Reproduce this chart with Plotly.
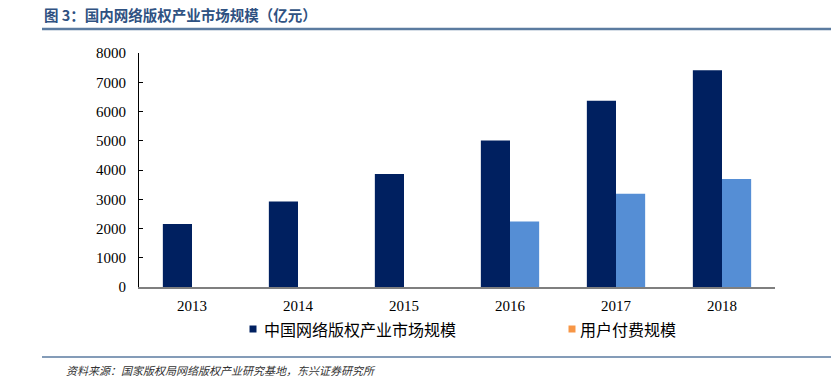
import plotly.graph_objects as go

years = ["2013", "2014", "2015", "2016", "2017", "2018"]
market_size = [2150, 2920, 3860, 5010, 6370, 7410]
user_paid = [None, None, None, 2240, 3190, 3690]
y_ticks = [0, 1000, 2000, 3000, 4000, 5000, 6000, 7000, 8000]
series_names = ["中国网络版权产业市场规模", "用户付费规模"]

W, H = 839, 387
ML, MR, MT, MB = 139, 64, 53, 100
PW, PH = W - ML - MR, H - MT - MB


def px(x):
    return (x - ML) / PW


def py(y):
    return (H - MB - y) / PH


DARK = "#002060"
LIGHT = "#558ED5"
ORANGE = "#F79646"

fig = go.Figure()
fig.add_trace(go.Bar(x=years, y=market_size, name=series_names[0],
                     marker=dict(color=DARK, line=dict(width=0)),
                     offsetgroup="a", showlegend=False))
fig.add_trace(go.Bar(x=years, y=user_paid, name=series_names[1],
                     marker=dict(color=LIGHT, line=dict(width=0)),
                     offsetgroup="b", showlegend=False))

fig.update_layout(
    width=W, height=H,
    margin=dict(l=ML, r=MR, t=MT, b=MB, autoexpand=False),
    paper_bgcolor="white", plot_bgcolor="white",
    barmode="group", bargap=0.45, bargroupgap=0,
    font=dict(family="Liberation Serif, Times New Roman, serif", color="#000000"),
    showlegend=False,
    xaxis=dict(type="category", showline=True, linecolor="#7F7F7F", linewidth=2,
               ticks="", showgrid=False, zeroline=False, automargin=False,
               tickfont=dict(family="Liberation Serif", size=15, color="#000000"),
               ticklabelstandoff=4),
    yaxis=dict(range=[0, 8000], tickvals=y_ticks, ticktext=[str(v) for v in y_ticks],
               showline=True, linecolor="#000000", linewidth=1,
               ticks="inside", ticklen=4, tickcolor="#000000", tickwidth=1,
               showgrid=False, zeroline=False, automargin=False,
               tickfont=dict(family="Liberation Serif", size=15, color="#000000"),
               ticklabelstandoff=9),
)

# legend (the reference key for the second series is orange)
legend_items = [(253, 262, DARK, series_names[0]), (572, 578, ORANGE, series_names[1])]
for cx, tx, col, label in legend_items:
    fig.add_shape(type="rect", xref="paper", yref="paper",
                  x0=px(cx - 3.5), x1=px(cx + 3.5), y0=py(329 + 3.5), y1=py(329 - 3.5),
                  fillcolor=col, line=dict(width=0))
    fig.add_annotation(text=label, xref="paper", yref="paper", x=px(tx), y=py(329),
                       xanchor="left", yanchor="middle", showarrow=False,
                       font=dict(family="Noto Sans CJK SC", size=16, color="#000000"))

fig.add_annotation(text="<b>图 3：国内网络版权产业市场规模（亿元）</b>",
                   xref="paper", yref="paper", x=px(42), y=py(15),
                   xanchor="left", yanchor="middle", showarrow=False,
                   font=dict(family="Noto Sans CJK SC", size=14.5, color="#2F5282"))
fig.add_shape(type="line", xref="paper", yref="paper",
              x0=px(42), x1=px(831), y0=py(29), y1=py(29),
              line=dict(color="#5B7BA0", width=2.5))
fig.add_shape(type="line", xref="paper", yref="paper",
              x0=px(42), x1=px(831), y0=py(357), y1=py(357),
              line=dict(color="#5B7BA0", width=1.5))
fig.add_annotation(text="<i>资料来源：国家版权局网络版权产业研究基地，东兴证券研究所</i>",
                   xref="paper", yref="paper", x=px(64), y=py(370),
                   xanchor="left", yanchor="middle", showarrow=False,
                   font=dict(family="Noto Sans CJK SC", size=11, color="#333333"))

fig.write_html("out.html", config={"displayModeBar": False},
               post_script="document.body.style.margin='0px';")
